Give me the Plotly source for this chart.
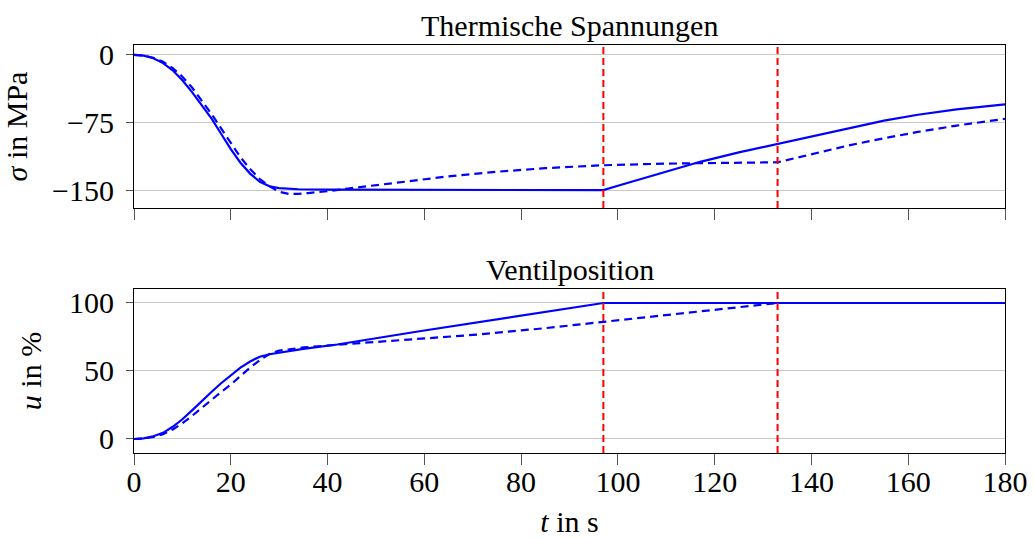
import plotly.graph_objects as go
from plotly.subplots import make_subplots

# ---- data ----
t_sig_solid = [0, 2, 4, 6, 8, 10, 12, 14, 16, 18, 20, 22, 24, 26, 28, 30, 34, 40, 60, 80, 90, 97,
               100, 105, 110, 117, 125, 133, 140, 148, 155, 162, 170, 180]
sig_solid = [0, -0.8, -3.6, -9, -17, -28, -41, -55, -70, -87, -104, -119, -131, -140, -145, -147,
             -148.3, -148.8, -148.8, -148.9, -149.3, -149.3,
             -144.5, -136.5, -128.5, -118, -107.5, -98, -89.5, -80, -72.5, -66, -60, -54.5]

t_sig_dash = [0, 2, 4, 6, 8, 10, 12, 14, 16, 18, 20, 22, 24, 26, 28, 30, 32, 34, 36, 40, 45, 50,
              56, 65, 75, 85, 97, 110, 120, 133, 137, 142, 148, 155, 162, 170, 180]
sig_dash = [0, -0.6, -3, -7.5, -14.5, -24, -36, -50, -65, -81, -97, -113, -126, -137, -145, -151,
            -153.5, -153.5, -152.5, -150.5, -147, -143.5, -140, -134, -129, -125, -121.8, -120,
            -119, -118.5, -113.5, -107.5, -99.5, -92, -85, -78, -70.5]

t_u_solid = [0, 2, 4, 6, 8, 10, 12, 14, 16, 18, 20, 22, 24, 26, 28, 30, 35, 42, 59, 97, 180]
u_solid = [0, 0.5, 2, 4.5, 9, 14.5, 21, 28, 34.5, 41, 47, 52.5, 57, 60.5, 62.3, 63.5, 66.3, 69.5,
           79.2, 100, 100]

t_u_dash = [0, 2, 4, 6, 8, 10, 12, 14, 16, 18, 20, 22, 24, 26, 28, 30, 35, 42, 55, 70, 85, 97,
            115, 133, 180]
u_dash = [0, 0.3, 1.5, 3.5, 7, 11.5, 17, 23, 28.5, 34.5, 40, 46.5, 52.5, 58, 62.5, 65, 67.3,
          69.3, 72.6, 76.5, 81.5, 86, 93, 100, 100]

events = [97, 133]

x_ticks = [0, 20, 40, 60, 80, 100, 120, 140, 160, 180]
sig_ticks = [0, -75, -150]
u_ticks = [0, 50, 100]

FONT = "Liberation Serif"
FS = 30
BLUE = "#0000ff"

fig = make_subplots(rows=2, cols=1, shared_xaxes=False, vertical_spacing=0.0)

fig.add_trace(go.Scatter(x=t_sig_solid, y=sig_solid, mode="lines",
                         line=dict(color=BLUE, width=2.2), showlegend=False), row=1, col=1)
fig.add_trace(go.Scatter(x=t_sig_dash, y=sig_dash, mode="lines",
                         line=dict(color=BLUE, width=2.2, dash="8px,5px"), showlegend=False), row=1, col=1)
fig.add_trace(go.Scatter(x=t_u_solid, y=u_solid, mode="lines",
                         line=dict(color=BLUE, width=2.2), showlegend=False), row=2, col=1)
fig.add_trace(go.Scatter(x=t_u_dash, y=u_dash, mode="lines",
                         line=dict(color=BLUE, width=2.2, dash="8px,5px"), showlegend=False), row=2, col=1)

for ev in events:
    for xr, yr in (("x", "y domain"), ("x2", "y2 domain")):
        fig.add_shape(type="line", xref=xr, yref=yr, x0=ev, x1=ev, y0=0, y1=1,
                      line=dict(color="#ff0000", width=2, dash="7px,4px"))

axis_common = dict(showline=True, linecolor="#000000", linewidth=1.2, mirror=True,
                   ticks="outside", tickcolor="#555555", zeroline=False, automargin=False,
                   tickfont=dict(family=FONT, size=FS, color="#000000"))

fig.update_layout(
    width=1035, height=538,
    margin=dict(l=134, r=30, t=45, b=85),
    paper_bgcolor="white", plot_bgcolor="white",
    font=dict(family=FONT, size=FS, color="#000000"),
    xaxis=dict(domain=[0, 1], range=[0, 180], tickvals=x_ticks, showticklabels=False,
               showgrid=False, ticklen=11, anchor="y", **axis_common),
    yaxis=dict(domain=[0.6005, 1.0], range=[-169, 11], tickvals=sig_ticks, showgrid=True,
               gridcolor="#c8c8c8", gridwidth=1, ticklen=7, anchor="x", ticklabelstandoff=6,
               title=dict(text="<i>σ</i> in MPa", font=dict(family=FONT, size=FS), standoff=18),
               **axis_common),
    xaxis2=dict(domain=[0, 1], range=[0, 180], tickvals=x_ticks, showgrid=False, ticklen=11,
                anchor="y2", ticklabelstandoff=-9,
                title=dict(text="<i>t</i> in s", font=dict(family=FONT, size=FS), standoff=21),
                **axis_common),
    yaxis2=dict(domain=[0.0, 0.402], range=[-10.3, 110.3], tickvals=u_ticks, showgrid=True,
                gridcolor="#c8c8c8", gridwidth=1, ticklen=7, anchor="x2", ticklabelstandoff=6,
                title=dict(text="<i>u</i> in %", font=dict(family=FONT, size=FS), standoff=18),
                **axis_common),
    annotations=[
        dict(text="Thermische Spannungen", x=0.5, y=1.0, xref="paper", yref="paper",
             xanchor="center", yanchor="bottom", yshift=1, showarrow=False,
             font=dict(family=FONT, size=FS)),
        dict(text="Ventilposition", x=0.5, y=0.402, xref="paper", yref="paper",
             xanchor="center", yanchor="bottom", yshift=1, showarrow=False,
             font=dict(family=FONT, size=FS)),
    ],
)

fig.write_html("out.html")
